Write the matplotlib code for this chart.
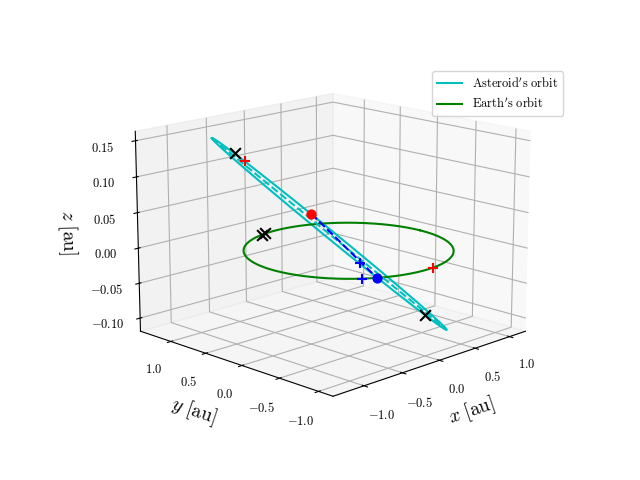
import numpy as np
import matplotlib
matplotlib.use("Agg")
import matplotlib.pyplot as plt
from matplotlib.ticker import FuncFormatter

plt.rcParams['mathtext.fontset'] = 'cm'
plt.rcParams['font.family'] = 'serif'
plt.rcParams['font.serif'] = ['DejaVu Serif']

# Asteroid orbit: centre, semi-major vector, semi-minor vector (au)
orbit_center = [-0.12, 0.12, 0.02]
orbit_major = [-0.79, 0.79, 0.135]
orbit_minor = [-0.05, -0.05, 0.010]
earth_radius = 1.0

black_x = [-0.76, -0.22, -0.16, 0.52]
black_y = [0.76, 0.97, 0.99, -0.52]
black_z = [0.134, 0.0, 0.0, -0.094]
red_plus_x = [-0.69, 0.10]
red_plus_y = [0.69, -0.99]
red_plus_z = [0.124, 0.0]
blue_plus_x = [0.08, -0.62]
blue_plus_y = [-0.08, -0.78]
blue_plus_z = [-0.02, 0.0]
red_dot = [-0.25, 0.25, 0.05]
blue_dot = [0.19, -0.19, -0.04]

t = np.linspace(0, 2*np.pi, 400)
c = np.array(orbit_center); u = np.array(orbit_major); v = np.array(orbit_minor)
ast = c[:, None] + u[:, None]*np.cos(t) + v[:, None]*np.sin(t)

fig = plt.figure(figsize=(6.4, 4.8), dpi=100)
fig.subplots_adjust(bottom=0.12, top=0.89)
ax = fig.add_subplot(projection='3d')
ax.plot(ast[0], ast[1], ast[2], color='c', label=r"$\mathrm{Asteroid's\ orbit}$")
ax.plot(earth_radius*np.cos(t), earth_radius*np.sin(t), 0*t, color='g', label=r"$\mathrm{Earth's\ orbit}$")
p1 = c + u; p2 = c - u
ax.plot([p1[0], p2[0]], [p1[1], p2[1]], [p1[2], p2[2]], 'c--')
ax.plot([red_dot[0], blue_dot[0]], [red_dot[1], blue_dot[1]], [red_dot[2], blue_dot[2]], 'b--')
ax.scatter(black_x, black_y, black_z, marker='x', color='k', s=60, depthshade=False)
ax.scatter(red_plus_x, red_plus_y, red_plus_z, marker='+', color='r', s=60, depthshade=False)
ax.scatter(blue_plus_x, blue_plus_y, blue_plus_z, marker='+', color='b', s=60, depthshade=False)
ax.scatter(*[[v_] for v_ in red_dot], color='r', s=40, depthshade=False)
ax.scatter(*[[v_] for v_ in blue_dot], color='b', s=40, depthshade=False)

ax.set_xlim(-1.39, 1.24)
ax.set_ylim(-1.18, 1.45)
ax.set_zlim(-0.119, 0.163)
ax.set_xticks([-1.0, -0.5, 0.0, 0.5, 1.0])
ax.set_yticks([-1.0, -0.5, 0.0, 0.5, 1.0])
ax.set_zticks([-0.10, -0.05, 0.0, 0.05, 0.10, 0.15])
f1 = FuncFormatter(lambda x, p: r'$%.1f$' % x)
f2 = FuncFormatter(lambda x, p: r'$%.2f$' % x)
ax.xaxis.set_major_formatter(f1)
ax.yaxis.set_major_formatter(f1)
ax.zaxis.set_major_formatter(f2)
ax.tick_params(labelsize=9)
ax.set_xlabel(r'$x\ \mathrm{[au]}$', fontsize=14)
ax.set_ylabel(r'$y\ \mathrm{[au]}$', fontsize=14)
ax.set_zlabel(r'$z\ \mathrm{[au]}$', fontsize=14)
ax.view_init(elev=15, azim=-135)
ax.set_box_aspect(None, zoom=1.16)
fig.legend(loc='upper right', fontsize=9, bbox_to_anchor=(0.89, 0.865))
fig.savefig('out.png', dpi=100)
